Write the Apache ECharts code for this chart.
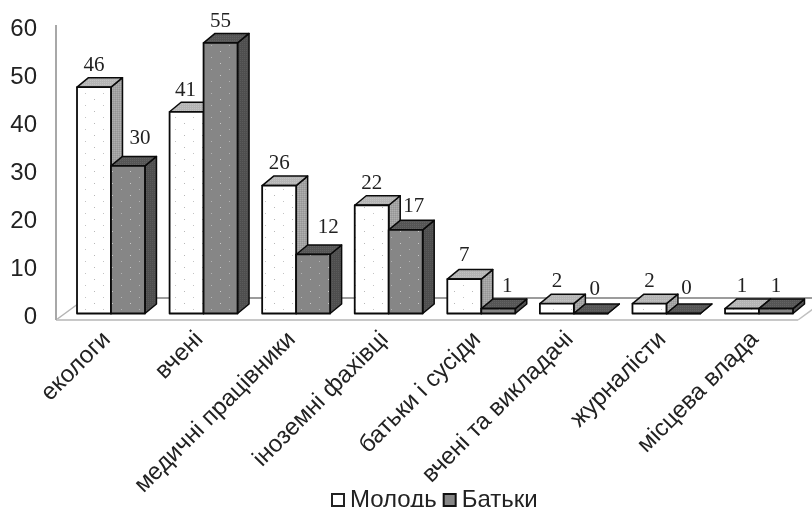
<!DOCTYPE html>
<html>
<head>
<meta charset="utf-8">
<style>html,body{margin:0;padding:0;background:#fff}#chart{width:812px;height:507px}</style>
<script src="https://cdn.jsdelivr.net/npm/echarts@6/dist/echarts.min.js"></script>
</head>
<body>
<div id="chart"></div>
<script>
// Survey answers by group
const categories = ['екологи', 'вчені', 'медичні працівники', 'іноземні фахівці', 'батьки і сусіди', 'вчені та викладачі', 'журналісти', 'місцева влада'];
const youth = [46, 41, 26, 22, 7, 2, 2, 1];
const parents = [30, 55, 12, 17, 1, 0, 0, 1];
const youthName = 'Молодь';
const parentsName = 'Батьки';

// Nudges for value labels that sit beside the neighbouring column
const youthLabelShift = [[0, -22], [-1, -21], [0, -22], [0, -22], [0, -24], [0, -22], [0, -22], [0, -22]];
const parentsLabelShift = [[12, -27], [0, -21], [15, -27], [8, -23], [9, -22], [4, -24], [3, -25], [0, -22]];

const DEPTH_X = 11.5, DEPTH_Y = -9.5;

function tile(w, h, bg, dots) {
  const c = document.createElement('canvas');
  c.width = w; c.height = h;
  const g = c.getContext('2d');
  g.fillStyle = bg; g.fillRect(0, 0, w, h);
  dots.forEach(d => { g.fillStyle = d[2]; g.fillRect(d[0], d[1], 1, 1); });
  return { image: c, repeat: 'repeat' };
}
const youthFront = tile(18, 12, '#ffffff', [[4, 3, '#b8b8b8'], [13, 9, '#c4c4c4']]);
const parentFront = tile(18, 12, '#868686', [[4, 3, '#c8c8c8'], [13, 9, '#b4b4b4']]);
const youthSide = tile(2, 2, '#a2a2a2', [[0, 0, '#b0b0b0'], [1, 1, '#969696']]);
const youthTop = tile(2, 2, '#b4b4b4', [[0, 0, '#c2c2c2']]);
const parentSide = tile(2, 2, '#4e4e4e', [[0, 0, '#5a5a5a']]);
const parentTop = tile(2, 2, '#555555', [[0, 0, '#636363']]);

function columnRenderer(side, front, faceSide, faceTop, shifts) {
  return function (params, api) {
    const w = api.size([1, 0])[0] * 0.367;
    const top = api.coord([api.value(0), api.value(1)]);
    const base = api.coord([api.value(0), 0]);
    const x0 = side < 0 ? top[0] - w : top[0];
    const x1 = x0 + w;
    const yT = top[1], yB = base[1];
    const edge = { stroke: '#0a0a0a', lineWidth: 1.5, lineJoin: 'round' };
    const sh = shifts[params.dataIndex];
    return {
      type: 'group',
      children: [
        { type: 'polygon', shape: { points: [[x1, yB], [x1 + DEPTH_X, yB + DEPTH_Y], [x1 + DEPTH_X, yT + DEPTH_Y], [x1, yT]] },
          style: Object.assign({ fill: faceSide }, edge) },
        { type: 'polygon', shape: { points: [[x0, yT], [x0 + DEPTH_X, yT + DEPTH_Y], [x1 + DEPTH_X, yT + DEPTH_Y], [x1, yT]] },
          style: Object.assign({ fill: faceTop }, edge) },
        { type: 'rect', shape: { x: x0, y: yT, width: w, height: yB - yT },
          style: Object.assign({ fill: front }, edge, { lineWidth: 1.8 }) },
        { type: 'text', x: (x0 + x1) / 2 + sh[0], y: yT + sh[1], z2: 50,
          style: { text: String(api.value(1)), fill: '#222', font: '21px "Liberation Serif"', align: 'center', verticalAlign: 'middle' } }
      ]
    };
  };
}

// Chart floor and left wall, laid out from the plot rectangle
function renderFrame(params) {
  const cs = params.coordSys;
  const wallX = cs.x - 8.7;
  const frontY = cs.y + cs.height + 6.5;
  const frontRight = cs.x + cs.width - 7.3;
  const backDx = 30, backDy = -22;
  const line = (p, stroke, width) => ({ type: 'polyline', shape: { points: p }, style: { stroke, lineWidth: width, fill: 'none' } });
  return {
    type: 'group',
    children: [
      line([[wallX + backDx, frontY + backDy], [frontRight + backDx, frontY + backDy]], '#9c9c9c', 2),
      line([[wallX, frontY], [wallX + backDx, frontY + backDy]], '#b4b4b4', 1.5),
      line([[frontRight, frontY], [frontRight + backDx, frontY + backDy]], '#c0c0c0', 1.5),
      line([[wallX, frontY], [frontRight, frontY]], '#c8c8c8', 2),
      line([[wallX, 25], [wallX, frontY]], '#a8a8a8', 2)
    ]
  };
}

const chart = echarts.init(document.getElementById('chart'), null, { renderer: 'canvas' });
chart.setOption({
  animation: false,
  backgroundColor: '#fff',
  legend: {
    data: [youthName, parentsName],
    left: 326, top: 483,
    icon: 'rect', itemWidth: 12, itemHeight: 12, itemGap: 6,
    textStyle: { fontFamily: 'Liberation Sans', fontSize: 24, color: '#222', padding: [0, 0, 0, 1] }
  },
  grid: [
    { left: 56, width: 740, top: 29, height: 288 },
    { left: 64.7, width: 740.6, top: 18.3, height: 295.2 }
  ],
  xAxis: [
    { gridIndex: 0, type: 'category', data: categories, show: false },
    { gridIndex: 1, type: 'category', data: categories,
      axisLine: { show: false }, axisTick: { show: false },
      axisLabel: { interval: 0, rotate: 45, margin: 18, padding: [0, 6, 0, 0], fontFamily: 'Liberation Sans', fontSize: 24, color: '#222' } }
  ],
  yAxis: [
    { gridIndex: 0, type: 'value', min: 0, max: 60, interval: 10,
      axisLine: { show: false }, axisTick: { show: false }, splitLine: { show: false },
      axisLabel: { margin: 19, fontFamily: 'Liberation Sans', fontSize: 24, color: '#222' } },
    { gridIndex: 1, type: 'value', min: 0, max: 60, interval: 10, show: false, splitLine: { show: false } }
  ],
  series: [
    { type: 'custom', name: 'frame', xAxisIndex: 1, yAxisIndex: 1, silent: true, clip: false,
      data: [[categories[0], 0]], encode: { x: 0, y: 1 }, renderItem: renderFrame },
    { type: 'custom', name: youthName, xAxisIndex: 1, yAxisIndex: 1, clip: false,
      itemStyle: { color: '#fff', borderColor: '#222', borderWidth: 1.5 },
      data: categories.map((c, i) => [c, youth[i]]), encode: { x: 0, y: 1 },
      renderItem: columnRenderer(-1, youthFront, youthSide, youthTop, youthLabelShift) },
    { type: 'custom', name: parentsName, xAxisIndex: 1, yAxisIndex: 1, clip: false,
      itemStyle: { color: '#868686', borderColor: '#111', borderWidth: 1.5 },
      data: categories.map((c, i) => [c, parents[i]]), encode: { x: 0, y: 1 },
      renderItem: columnRenderer(1, parentFront, parentSide, parentTop, parentsLabelShift) }
  ]
});
</script>
</body>
</html>
